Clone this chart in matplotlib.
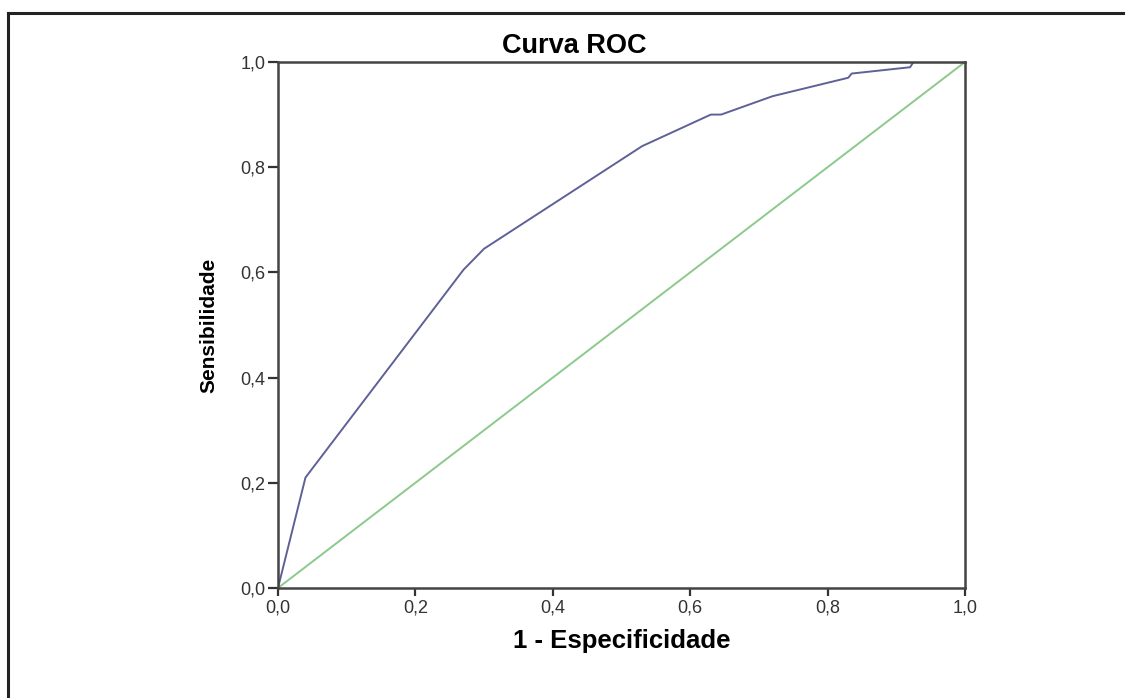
import matplotlib
matplotlib.use("Agg")
import matplotlib.pyplot as plt
from matplotlib.lines import Line2D
from matplotlib.ticker import FuncFormatter

# ROC curve
fpr = [0.0, 0.04, 0.27, 0.30, 0.53, 0.63, 0.645, 0.72, 0.83, 0.835, 0.92, 0.925, 1.0]
tpr = [0.0, 0.21, 0.605, 0.645, 0.84, 0.90, 0.90, 0.935, 0.97, 0.978, 0.99, 1.0, 1.0]
ref_x = [0.0, 1.0]
ref_y = [0.0, 1.0]
ticks = [0.0, 0.2, 0.4, 0.6, 0.8, 1.0]

plt.rcParams['font.family'] = ['Liberation Sans', 'DejaVu Sans']

fig = plt.figure(figsize=(11.25, 6.98), dpi=100)
ax = fig.add_axes([0.2471, 0.1576, 0.6107, 0.7536])

ax.plot(fpr, tpr, color='#5e6196', lw=1.4)
ax.plot(ref_x, ref_y, color='#8cc98c', lw=1.4)

ax.set_xlim(0, 1)
ax.set_ylim(0, 1)
ax.set_xticks(ticks)
ax.set_yticks(ticks)
fmt = FuncFormatter(lambda v, p: f"{v:.1f}".replace('.', ','))
ax.xaxis.set_major_formatter(fmt)
ax.yaxis.set_major_formatter(fmt)
ax.tick_params(direction='out', width=1.6, color='#333333',
               labelsize=13, labelcolor='#333333')
ax.tick_params(axis='x', length=6, pad=2)
ax.tick_params(axis='y', length=7.5, pad=1.5)
for s in ax.spines.values():
    s.set_color('#444444')
    s.set_linewidth(1.8)

ax.set_title('Curva ROC', fontsize=19.5, fontweight='bold', pad=6.5, x=0.431)
ax.set_xlabel('1 - Especificidade', fontsize=18.5, fontweight='bold', labelpad=9)
ax.set_ylabel('Sensibilidade', fontsize=15, fontweight='bold', labelpad=16)

# outer frame (top and left edges only, the rest is cropped)
fig.add_artist(Line2D([8 / 1125, 8 / 1125], [0, 1 - 13 / 698],
                      transform=fig.transFigure, color='#222222', lw=2.2))
fig.add_artist(Line2D([8 / 1125, 1], [1 - 13 / 698, 1 - 13 / 698],
                      transform=fig.transFigure, color='#222222', lw=2.2))

fig.savefig('out.png', dpi=100)
